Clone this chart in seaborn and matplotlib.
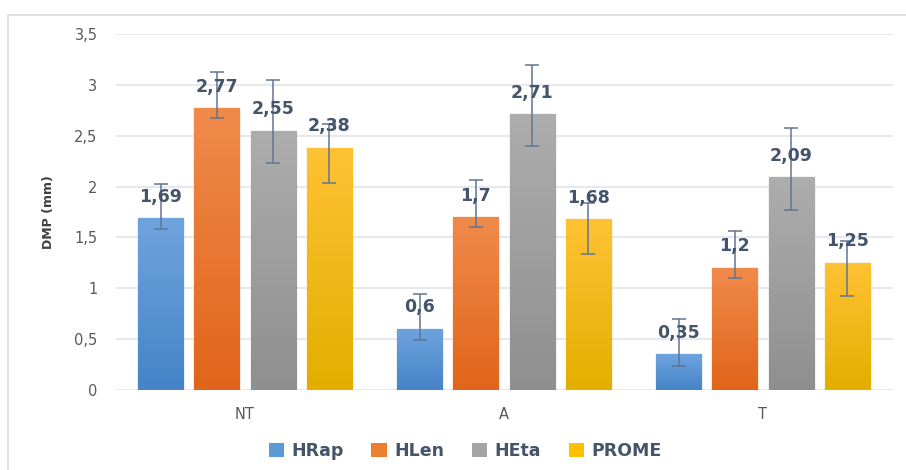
import numpy as np
import pandas as pd
import matplotlib
matplotlib.use("Agg")
import matplotlib.pyplot as plt
import seaborn as sns
from matplotlib.patches import Patch, Rectangle
from matplotlib.colors import to_rgb

# ---- data ----
categories = ["NT", "A", "T"]
series = ["HRap", "HLen", "HEta", "PROME"]
HRap = [1.69, 0.6, 0.35]
HLen = [2.77, 1.7, 1.2]
HEta = [2.55, 2.71, 2.09]
PROME = [2.38, 1.68, 1.25]
# error bar ends (upper / lower)
HRap_hi = [2.03, 0.94, 0.70]
HRap_lo = [1.58, 0.49, 0.24]
HLen_hi = [3.13, 2.06, 1.56]
HLen_lo = [2.67, 1.60, 1.10]
HEta_hi = [3.05, 3.20, 2.58]
HEta_lo = [2.23, 2.40, 1.77]
PROME_hi = [2.62, 1.84, 1.46]
PROME_lo = [2.04, 1.34, 0.92]
y_ticks = [0, 0.5, 1, 1.5, 2, 2.5, 3, 3.5]
y_tick_labels = ["0", "0,5", "1", "1,5", "2", "2,5", "3", "3,5"]
y_label = "DMP (mm)"

values = {"HRap": HRap, "HLen": HLen, "HEta": HEta, "PROME": PROME}
highs = {"HRap": HRap_hi, "HLen": HLen_hi, "HEta": HEta_hi, "PROME": PROME_hi}
lows = {"HRap": HRap_lo, "HLen": HLen_lo, "HEta": HEta_lo, "PROME": PROME_lo}

rows = []
for s in series:
    for c, v in zip(categories, values[s]):
        rows.append({"cat": c, "series": s, "val": v})
df = pd.DataFrame(rows)

base_colors = {"HRap": "#5B9BD5", "HLen": "#ED7D31", "HEta": "#A5A5A5", "PROME": "#FFC000"}
grad_colors = {
    "HRap": ("#6FA3DD", "#4584C8"),
    "HLen": ("#F08A4B", "#E0651A"),
    "HEta": ("#ADADAD", "#8F8F8F"),
    "PROME": ("#FFC234", "#E3AE00"),
}
edge_colors = {"HRap": "#8DB7E5", "HLen": "#F4A070", "HEta": "#C4C4C4", "PROME": "#FFD466"}

text_dark = "#44546A"
tick_gray = "#595959"
grid_col = "#E1E4EB"
err_col = "#5F7595"

sns.set_theme(style="white")
plt.rcParams["font.family"] = ["DejaVu Sans"]

fig = plt.figure(figsize=(9.06, 4.70), dpi=100)
ax = fig.add_axes([115.5 / 906, 80 / 470, (892.5 - 115.5) / 906, (390 - 34) / 470])

sns.barplot(data=df, x="cat", y="val", hue="series", order=categories,
            hue_order=series, palette=base_colors, width=0.87, gap=0.2,
            errorbar=None, legend=False, ax=ax, zorder=3)

ax.set_xlim(-0.5, 2.5)
ax.set_ylim(0, 3.5)

# gradient fills, error bars, labels
for s, cont in zip(series, ax.containers):
    top, bot = grad_colors[s]
    grad = np.linspace(np.array(to_rgb(top)), np.array(to_rgb(bot)), 64).reshape(64, 1, 3)
    xs, ys = [], []
    for bar in cont:
        x0, w, h = bar.get_x(), bar.get_width(), bar.get_height()
        bar.set_edgecolor(edge_colors[s])
        bar.set_linewidth(1.0)
        im = ax.imshow(grad, extent=[x0, x0 + w, 0, h], aspect="auto",
                       zorder=3.1, interpolation="bilinear")
        im.set_clip_path(bar)
        xs.append(x0 + w / 2)
        ys.append(h)
    ys = np.array(ys)
    lo = ys - np.array(lows[s])
    hi = np.array(highs[s]) - ys
    ax.errorbar(xs, ys, yerr=[lo, hi], fmt="none", ecolor=err_col,
                elinewidth=1.1, capsize=5, capthick=1.1, zorder=4)
    labels = [str(v).replace(".", ",") for v in values[s]]
    ax.bar_label(cont, labels=labels, padding=9, fontsize=12.5,
                 fontweight="bold", color=text_dark, zorder=5)

ax.set_xlim(-0.5, 2.5)
ax.set_ylim(0, 3.5)

ax.set_yticks(y_ticks)
ax.set_yticklabels(y_tick_labels, fontsize=10.5, color=tick_gray)
ax.tick_params(axis="y", length=0, pad=13)
ax.tick_params(axis="x", length=0, pad=12, labelsize=10.5, labelcolor=tick_gray)
ax.set_xlabel("")
ax.set_ylabel(y_label, fontsize=9, fontweight="bold", color="#404040")
ax.yaxis.set_label_coords((55 - 115.5) / (892.5 - 115.5), 0.5)
ax.yaxis.grid(True, color=grid_col, linewidth=1.2, zorder=0)
ax.set_axisbelow(True)
for sp in ax.spines.values():
    sp.set_visible(False)

# legend
handles = [Patch(facecolor=base_colors[s], edgecolor="none", label=s) for s in series]
fig.legend(handles=handles, loc="center", bbox_to_anchor=(465 / 906, 1 - 451 / 470),
           ncol=4, frameon=False, handlelength=0.9, handleheight=0.9,
           handletextpad=0.4, columnspacing=1.6,
           prop={"size": 12.5, "weight": "bold"}, labelcolor=text_dark)

# outer chart border
fig.patches.append(Rectangle((8 / 906, -0.05), 1.1, 1 - 15 / 470 + 0.05,
                             transform=fig.transFigure, fill=False,
                             edgecolor="#DCDCDC", linewidth=1.2))

fig.savefig("out.png", dpi=100)
